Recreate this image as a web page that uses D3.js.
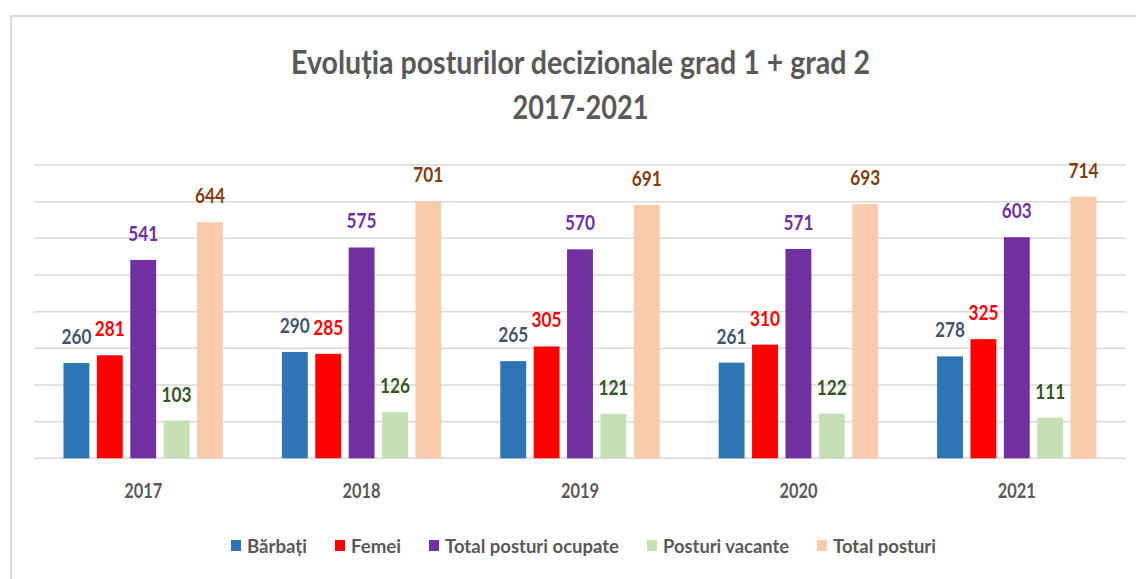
<!DOCTYPE html>
<html>
<head>
<meta charset="utf-8">
<script src="https://cdn.jsdelivr.net/npm/d3@7"></script>
<style>
  html, body { margin: 0; padding: 0; background: #ffffff; }
  svg { display: block; }
  text { font-family: Lato, "Open Sans", sans-serif; font-weight: bold; }
</style>
</head>
<body>
<svg id="chart" width="1136" height="579"></svg>
<script>
const years = ["2017", "2018", "2019", "2020", "2021"];
const seriesNames = ["Bărbați", "Femei", "Total posturi ocupate", "Posturi vacante", "Total posturi"];
const barbati = [260, 290, 265, 261, 278];
const femei = [281, 285, 305, 310, 325];
const totalOcupate = [541, 575, 570, 571, 603];
const vacante = [103, 126, 121, 122, 111];
const totalPosturi = [644, 701, 691, 693, 714];
const yTicks = [0, 100, 200, 300, 400, 500, 600, 700, 800];
const titleLines = ["Evoluția posturilor decizionale grad 1 + grad 2", "2017-2021"];

const barColors = ["#2E75B6", "#FF0000", "#7030A0", "#C5E0B4", "#F8CBAD"];
const labelColors = ["#44546A", "#FF0000", "#7030A0", "#375623", "#843C0C"];
const seriesValues = [barbati, femei, totalOcupate, vacante, totalPosturi];

const svg = d3.select("#chart");

// outer frame
svg.append("rect")
  .attr("x", 11).attr("y", 16)
  .attr("width", 1140).attr("height", 600)
  .attr("fill", "none").attr("stroke", "#d9d9d9").attr("stroke-width", 2);

// title
const titleWidths = [579, 136];
titleLines.forEach((t, i) => {
  svg.append("text")
    .attr("x", 580.5).attr("y", 74 + i * 45)
    .attr("text-anchor", "middle")
    .attr("font-size", 32)
    .attr("fill", "#595959")
    .attr("textLength", titleWidths[i])
    .attr("lengthAdjust", "spacingAndGlyphs")
    .text(t);
});

const plotLeft = 34, plotRight = 1126;
const y = d3.scaleLinear().domain([0, 800]).range([458.3, 165]);
const x0 = d3.scaleBand().domain(years).range([plotLeft, plotRight]).padding(0);
const bw0 = x0.bandwidth();
const x1 = d3.scaleBand().domain(d3.range(seriesNames.length))
  .range([bw0 * 0.135, bw0 * 0.865]).paddingInner(0.225).paddingOuter(0);

// gridlines
svg.append("g").selectAll("line").data(yTicks).join("line")
  .attr("x1", plotLeft).attr("x2", plotRight)
  .attr("y1", d => y(d)).attr("y2", d => y(d))
  .attr("stroke", "#d9d9d9").attr("stroke-width", 1.5);

// bars
const groups = svg.append("g").selectAll("g").data(years).join("g")
  .attr("transform", d => `translate(${x0(d)},0)`);

groups.each(function(yr, yi) {
  const g = d3.select(this);
  seriesValues.forEach((vals, si) => {
    const v = vals[yi];
    g.append("rect")
      .attr("x", x1(si)).attr("y", y(v))
      .attr("width", x1.bandwidth()).attr("height", y(0) - y(v))
      .attr("fill", barColors[si]);
    g.append("text")
      .attr("x", x1(si) + x1.bandwidth() / 2)
      .attr("y", y(v) - 19)
      .attr("text-anchor", "middle")
      .attr("font-size", 20)
      .attr("fill", labelColors[si])
      .attr("textLength", 30)
      .attr("lengthAdjust", "spacingAndGlyphs")
      .text(v);
  });
});

// x axis labels
svg.append("g").selectAll("text").data(years).join("text")
  .attr("x", d => x0(d) + bw0 / 2)
  .attr("y", 498)
  .attr("text-anchor", "middle")
  .attr("font-size", 20)
  .attr("fill", "#595959")
  .attr("textLength", 38)
  .attr("lengthAdjust", "spacingAndGlyphs")
  .text(d => d);

// legend
const legendWidths = [60, 50, 174, 126, 103];
let lx = 231;
const legend = svg.append("g");
seriesNames.forEach((name, i) => {
  legend.append("rect")
    .attr("x", lx).attr("y", 540)
    .attr("width", 10).attr("height", 11)
    .attr("fill", barColors[i]);
  legend.append("text")
    .attr("x", lx + 16).attr("y", 553)
    .attr("font-size", 18)
    .attr("fill", "#595959")
    .attr("textLength", legendWidths[i])
    .attr("lengthAdjust", "spacingAndGlyphs")
    .text(name);
  lx += 16 + legendWidths[i] + 28;
});
</script>
</body>
</html>
